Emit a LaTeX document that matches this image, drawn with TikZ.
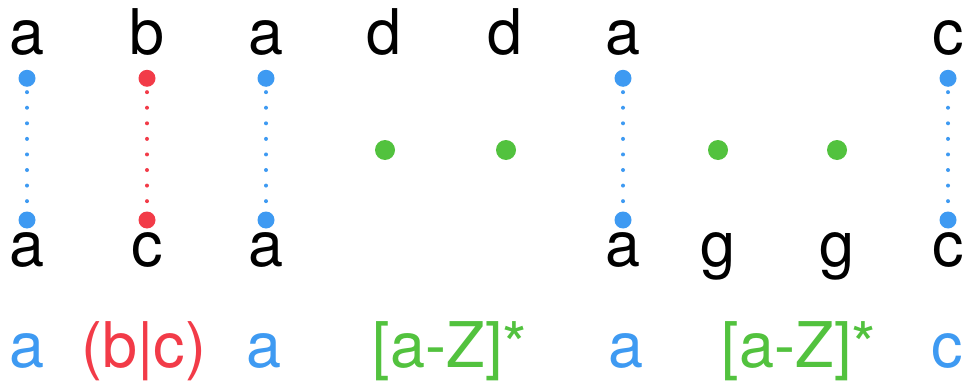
\documentclass[tikz,border=0pt]{standalone}
\usepackage{fontspec}
\setmainfont{TeX Gyre Heros}
\definecolor{cblue}{HTML}{3E9AF2}
\definecolor{cred}{HTML}{F23B48}
\definecolor{cgreen}{HTML}{52C23E}
\begin{document}
\begin{tikzpicture}[x=1pt,y=1pt,
  letter/.style={anchor=base, inner sep=0pt, font=\fontsize{63}{70}\selectfont},
  bdot/.style={circle, fill=cblue, inner sep=0pt, minimum size=17pt},
  rdot/.style={circle, fill=cred, inner sep=0pt, minimum size=17pt},
  gdot/.style={circle, fill=cgreen, inner sep=0pt, minimum size=20pt},
  link/.style={line width=4pt, line cap=round, dash pattern=on 0pt off 15.57pt, dash phase=10.4pt}
]
\useasboundingbox[fill=white] (0,0) rectangle (966,381);
% top letters (baseline img y=55)
\foreach \n/\x/\t in {t1/27/a, t2/147/b, t3/266/a, t4/384/d, t5/505/d, t6/623/a, t9/948/c}
  \node[letter] (\n) at (\x,326) {\t};
% bottom black letters (baseline img y=266)
\foreach \n/\x/\t in {u1/27/a, u2/147/c, u3/266/a, u6/623/a, u7/718/g, u8/837/g, u9/948/c}
  \node[letter] (\n) at (\x,115) {\t};
% dots
\node[bdot] (p1) at (27,302.7) {};  \node[bdot] (q1) at (27,161) {};
\node[rdot] (p2) at (147,302.7) {}; \node[rdot] (q2) at (147,161) {};
\node[bdot] (p3) at (266,302.7) {}; \node[bdot] (q3) at (266,161) {};
\node[bdot] (p6) at (623,302.7) {}; \node[bdot] (q6) at (623,161) {};
\node[bdot] (p9) at (948,302.7) {}; \node[bdot] (q9) at (948,161) {};
\node[gdot] (g4) at (385,231) {};
\node[gdot] (g5) at (506,231) {};
\node[gdot] (g7) at (718,231) {};
\node[gdot] (g8) at (837,231) {};
% dotted links
\draw[link, cblue] (p1.south) -- (q1.north);
\draw[link, cred]  (p2.south) -- (q2.north);
\draw[link, cblue] (p3.south) -- (q3.north);
\draw[link, cblue] (p6.south) -- (q6.north);
\draw[link, cblue] (p9.south) -- (q9.north);
% regex row (baseline img y=367)
\node[letter, text=cblue]  (r1) at (27,14)  {a};
\node[letter, text=cred]   (r2) at (144,14) {(b|c)};
\node[letter, text=cblue]  (r3) at (264,14) {a};
\node[letter, text=cgreen] (r4) at (450,14) {[a-Z]*};
\node[letter, text=cblue]  (r5) at (626,14) {a};
\node[letter, text=cgreen] (r6) at (799,14) {[a-Z]*};
\node[letter, text=cblue]  (r7) at (947,14) {c};
\end{tikzpicture}
\end{document}
